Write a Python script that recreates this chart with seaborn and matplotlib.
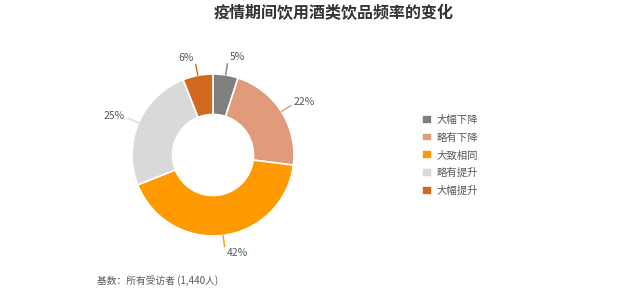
import numpy as np
import matplotlib
matplotlib.use("Agg")
import matplotlib.pyplot as plt
import seaborn as sns

# data
categories = ["大幅下降", "略有下降", "大致相同", "略有提升", "大幅提升"]
shares = [5, 22, 42, 25, 6]
colors = ["#7f7f7f", "#e19b7b", "#ff9900", "#d9d9d9", "#d2691f"]
title = "疫情期间饮用酒类饮品频率的变化"
footnote = "基数：所有受访者 (1,440人)"

sns.set_theme(style="white")
plt.rcParams['font.family'] = ['Noto Sans CJK SC', 'DejaVu Sans']

fig = plt.figure(figsize=(6.4, 2.89), dpi=100)
ax = fig.add_axes([(213 - 81) / 640, (289 - 155 - 81) / 289, 162 / 640, 162 / 289])

wedges, _ = ax.pie(shares, colors=sns.color_palette(colors), startangle=90, counterclock=False,
                   radius=1.0, wedgeprops=dict(width=0.5, edgecolor="white", linewidth=1.2))
ax.set_xlim(-1, 1)
ax.set_ylim(-1, 1)
ax.set_aspect("equal")
ax.axis("off")

# outside labels with leader lines
for w, v in zip(wedges, shares):
    ang = np.deg2rad((w.theta1 + w.theta2) / 2)
    c, s = np.cos(ang), np.sin(ang)
    ax.plot([c * 1.0, c * 1.14], [s * 1.0, s * 1.14], color=w.get_facecolor(), lw=1, clip_on=False)
    ha = "left" if c >= 0 else "right"
    dx = 0.02 if c >= 0 else -0.02
    ax.text(c * 1.16 + dx, s * 1.22, f"{v}%", ha=ha, va="center", fontsize=7.5, color="#595959",
            clip_on=False)

fig.text(334 / 640, 1 - 13 / 289, title, ha="center", va="center", fontsize=11.5, color="#333333",
         fontweight="bold")
fig.text(97 / 640, 1 - 281 / 289, footnote, ha="left", va="center", fontsize=7, color="#595959")

leg = fig.legend(wedges, categories, loc="upper left", bbox_to_anchor=(418 / 640, 1 - 111 / 289),
                 frameon=False, fontsize=7.5, handlelength=0.9, handleheight=0.9, handletextpad=0.45,
                 labelspacing=0.72, borderaxespad=0)
for t in leg.get_texts():
    t.set_color("#595959")

fig.savefig("out.png", dpi=100)
